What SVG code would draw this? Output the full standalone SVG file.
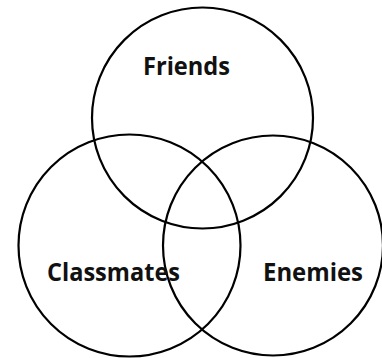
<svg xmlns="http://www.w3.org/2000/svg" width="382" height="358" viewBox="0 0 382 358">
<style>
.c{fill:none;stroke:#000;stroke-width:2.2}
.t{font-family:"Open Sans","Liberation Sans",sans-serif;font-weight:bold;font-size:25px;fill:#111}
</style>
<rect width="382" height="358" fill="#fff"/>
<g id="friends"><circle class="c" cx="202.5" cy="118" r="110.5"/></g>
<g id="classmates"><circle class="c" cx="129.5" cy="245.5" r="111"/></g>
<g id="enemies"><circle class="c" cx="273" cy="245.5" r="110"/></g>
<g id="labels">
<text class="t" x="143" y="75" textLength="87" lengthAdjust="spacingAndGlyphs">Friends</text>
<text class="t" x="47" y="281" textLength="133" lengthAdjust="spacingAndGlyphs">Classmates</text>
<text class="t" x="263" y="281" textLength="100" lengthAdjust="spacingAndGlyphs">Enemies</text>
</g>
</svg>
